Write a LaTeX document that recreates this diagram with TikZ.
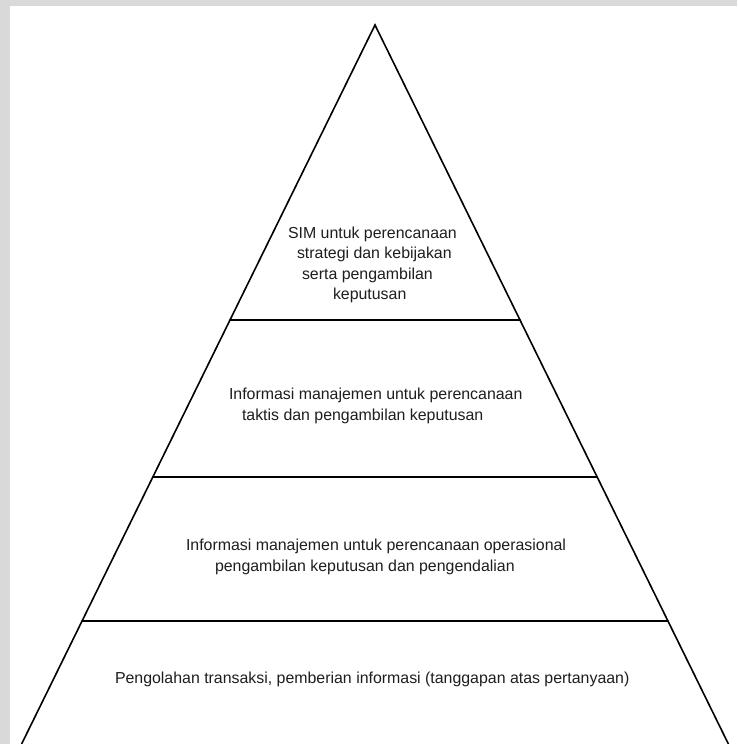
\documentclass[tikz,border=0pt]{standalone}
\usepackage{fontspec}
\setmainfont{Liberation Sans}
\usetikzlibrary{calc}
\definecolor{frame}{HTML}{D9D9D9}
\definecolor{ink}{HTML}{1E1E1E}
\begin{document}
\begin{tikzpicture}[x=1pt,y=-1pt,
  edge/.style={line width=1.6pt,black,line cap=round,line join=miter},
  label/.style={anchor=base west,inner sep=0pt,outer sep=0pt,text=ink,
    font=\fontsize{15.9}{20.5}\selectfont}]
  % canvas with a light grey strip on the top and left
  \fill[frame] (0,0) rectangle (737,744);
  \fill[white] (10,6) rectangle (737,744);
  \useasboundingbox (0,0) rectangle (737,744);

  % pyramid outline
  \coordinate (apex) at (375,25);
  \coordinate (bl) at (21.6,744);
  \coordinate (br) at (728.4,744);
  \begin{scope}
    \clip (0,0) rectangle (737,744);
    \draw[edge] (bl) -- (apex) -- (br);
  \end{scope}

  % level boundaries
  \coordinate (l1a) at ($(apex)!0.4103!(bl)$);
  \coordinate (l1b) at ($(apex)!0.4103!(br)$);
  \coordinate (l2a) at ($(apex)!0.6287!(bl)$);
  \coordinate (l2b) at ($(apex)!0.6287!(br)$);
  \coordinate (l3a) at ($(apex)!0.8289!(bl)$);
  \coordinate (l3b) at ($(apex)!0.8289!(br)$);
  \draw[edge] (l1a) -- (l1b);
  \draw[edge] (l2a) -- (l2b);
  \draw[edge] (l3a) -- (l3b);

  % top level
  \node[label] (t1) at (288,238) {SIM untuk perencanaan};
  \node[label] (t2) at (297,258) {strategi dan kebijakan};
  \node[label] (t3) at (302,279) {serta pengambilan};
  \node[label] (t4) at (333,299) {keputusan};

  % second level
  \node[label] (m1) at (229,399) {Informasi manajemen untuk perencanaan};
  \node[label] (m2) at (242,420) {taktis dan pengambilan keputusan};

  % third level
  \node[label] (o1) at (186,550) {Informasi manajemen untuk perencanaan operasional};
  \node[label] (o2) at (215,571) {pengambilan keputusan dan pengendalian};

  % base level
  \node[label] (b1) at (115,683) {Pengolahan transaksi, pemberian informasi (tanggapan atas pertanyaan)};
\end{tikzpicture}
\end{document}
